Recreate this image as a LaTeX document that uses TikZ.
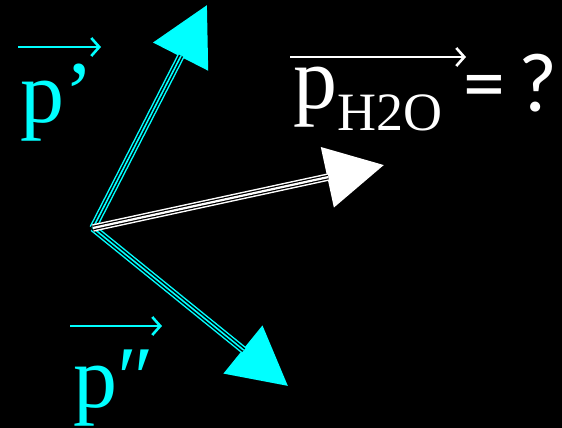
\documentclass[tikz,border=0pt]{standalone}
\usepackage{fontspec}
\setmainfont{Liberation Serif}
\newfontfamily\eqfont{Carlito}
\usetikzlibrary{arrows.meta}
\definecolor{aqua}{RGB}{0,255,255}

\begin{document}
\begin{tikzpicture}[
  x=1pt, y=-1pt,
  vec/.style={line width=7.5pt, -{Triangle[length=58pt, width=60pt]}},
  gap/.style={black, line width=4.6pt, shorten >=57pt},
  core/.style={line width=1.6pt, shorten >=57pt},
  lbl/.style={inner sep=0pt, anchor=base west, font=\fontsize{88}{88}\selectfont},
  over/.style={line width=2.6pt, -{Straight Barb[length=8pt, width=18pt]}}
]
\fill[black] (0,0) rectangle (562,428);
\useasboundingbox (0,0) rectangle (562,428);

% momenta from one point
\coordinate (o) at (93,228);
\coordinate (pa) at (207,5);
\coordinate (pb) at (288,386);
\coordinate (pw) at (384,165);

\foreach \tip in {pa, pb} {
  \draw[vec, aqua] (o) -- (\tip);
  \draw[gap] (o) -- (\tip);
  \draw[core, aqua] (o) -- (\tip);
}
\draw[vec, white] (o) -- (pw);
\draw[gap] (o) -- (pw);
\draw[core, white, line width=2.2pt] (o) -- (pw);

% labels
\node[lbl, aqua] (lpa) at (20,122) {p’};
\draw[over, aqua] (18,47) -- (101,47);

\node[lbl, aqua] (lpb) at (73,407) {p″};
\draw[over, aqua] (70,326) -- (162,326);

\node[lbl, white] (lpw) at (293,108) {p\raisebox{-22pt}{\fontsize{54}{54}\selectfont H2O}};
\draw[over, white] (290,57) -- (466,57);
\node[lbl, white, font=\fontsize{84}{84}\selectfont\eqfont] (q) at (463,111) {=\,?};
\end{tikzpicture}
\end{document}
